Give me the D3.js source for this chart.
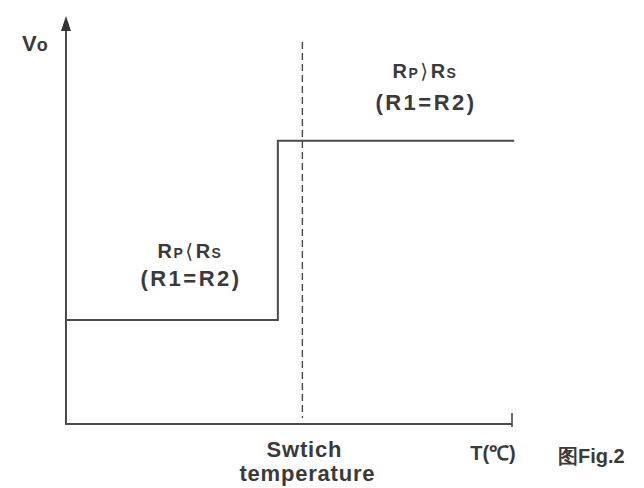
<!DOCTYPE html>
<html><head><meta charset="utf-8">
<script src="https://cdn.jsdelivr.net/npm/d3@7"></script>
<style>
body{margin:0;background:#fff;}
text{font-family:"Liberation Sans",Arial,sans-serif;fill:#3a3a3a;font-weight:bold;}
</style></head>
<body>
<svg id="c" width="644" height="488"></svg>
<script>
// Data (arbitrary units)
const stepX = [0, 4.75, 4.75, 10.05];      // temperature positions of step line vertices
const stepY = [2.55, 2.55, 6.94, 6.94];    // output voltage levels
const switchT = [5.3];                     // switch temperature (dashed line)
const switchSpan = [0.15, 9.36];           // dashed line vertical extent
const xDomain = [0, 10];
const yDomain = [0, 10];

const svg = d3.select("#c");
const x = d3.scaleLinear().domain(xDomain).range([66, 512]);
const y = d3.scaleLinear().domain(yDomain).range([424, 16]);
const col = "#4a4a4a";

// x axis
svg.append("line").attr("x1", x(0)).attr("x2", x(10)).attr("y1", y(0)).attr("y2", y(0))
  .attr("stroke", col).attr("stroke-width", 2.2);
svg.append("line").attr("x1", x(10)).attr("x2", x(10)).attr("y1", y(0) - 11).attr("y2", y(0) + 3)
  .attr("stroke", col).attr("stroke-width", 1.6);
// y axis
svg.append("line").attr("x1", x(0)).attr("x2", x(0)).attr("y1", y(0) + 1).attr("y2", y(10) + 10)
  .attr("stroke", col).attr("stroke-width", 2);
svg.append("path").attr("d", `M${x(0)},${y(10)} L${x(0)-5},${y(10)+15} L${x(0)+5},${y(10)+15} Z`)
  .attr("fill", "#333");

// dashed switch line
svg.append("line").attr("x1", x(switchT[0])).attr("x2", x(switchT[0]))
  .attr("y1", y(switchSpan[1])).attr("y2", y(switchSpan[0]))
  .attr("stroke", col).attr("stroke-width", 1.4).attr("stroke-dasharray", "7,4");

// step line
const pts = stepX.map((d, i) => [x(d), y(stepY[i])]);
svg.append("path").attr("d", d3.line()(pts)).attr("fill", "none")
  .attr("stroke", col).attr("stroke-width", 2);

// labels
function rLabel(cx, by, sub1, sym, sub2) {
  const t = svg.append("text").attr("x", cx).attr("y", by).attr("text-anchor", "middle")
    .style("font-size", "20px").style("letter-spacing", "1.5px");
  t.append("tspan").text("R");
  t.append("tspan").style("font-size", "14px").text(sub1);
  t.append("tspan").style("font-size", "20px").style("font-weight", "normal")
    .style("font-family", "DejaVu Sans").attr("dx", 1).text(sym);
  t.append("tspan").attr("dx", 1).text("R");
  t.append("tspan").style("font-size", "14px").text(sub2);
}
rLabel(425, 78, "P", "⟩", "S");
svg.append("text").attr("x", 426).attr("y", 110).attr("text-anchor", "middle")
  .style("font-size", "22px").style("letter-spacing", "2.5px").text("(R1=R2)");
rLabel(190, 258, "P", "⟨", "S");
svg.append("text").attr("x", 191).attr("y", 286).attr("text-anchor", "middle")
  .style("font-size", "22px").style("letter-spacing", "2.5px").text("(R1=R2)");

const vo = svg.append("text").attr("x", 22).attr("y", 51).style("font-size", "22px");
vo.append("tspan").text("V");
vo.append("tspan").style("font-size", "18px").text("o");

svg.append("text").attr("x", x(switchT[0])+2).attr("y", 457).attr("text-anchor", "middle")
  .style("font-size", "22px").style("letter-spacing", "0.8px").text("Swtich");
svg.append("text").attr("x", x(switchT[0])+5).attr("y", 481).attr("text-anchor", "middle")
  .style("font-size", "22px").style("letter-spacing", "0.8px").text("temperature");
svg.append("text").attr("x", 493).attr("y", 460).attr("text-anchor", "middle")
  .style("font-size", "20px").text("T(℃)");
svg.append("text").attr("x", 558).attr("y", 463)
  .style("font-size", "20px").text("图Fig.2");
</script>
</body></html>
